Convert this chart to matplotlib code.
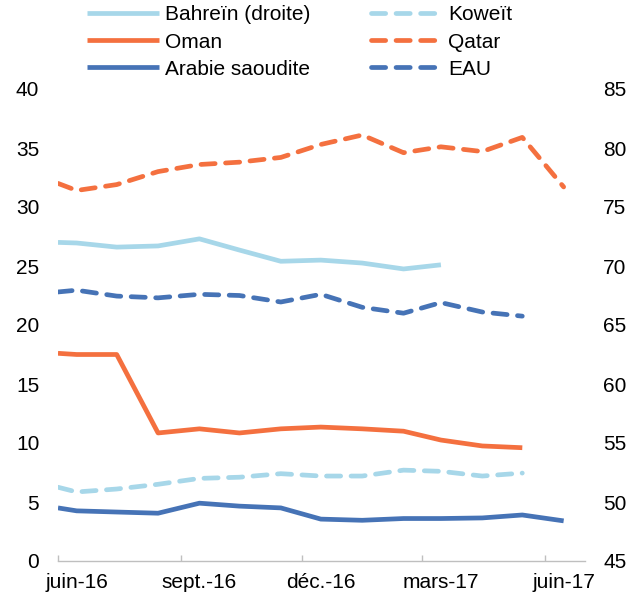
import numpy as np
import pandas as pd
import matplotlib
matplotlib.use("Agg")
import matplotlib.pyplot as plt
import matplotlib.dates as mdates

plt.rcParams['font.family'] = ['Liberation Sans', 'DejaVu Sans']

# dates of the points (first point sits on the left edge of the axis)
dates = pd.to_datetime(["2016-06-01", "2016-06-15", "2016-07-15", "2016-08-15", "2016-09-15",
                        "2016-10-15", "2016-11-15", "2016-12-15", "2017-01-15", "2017-02-15",
                        "2017-03-15", "2017-04-15", "2017-05-15", "2017-06-15"])

bahrein = [72.0, 71.95, 71.6, 71.7, 72.3, 71.35, 70.4, 70.5, 70.25, 69.75, 70.1]
oman = [17.6, 17.5, 17.5, 10.85, 11.2, 10.85, 11.2, 11.35, 11.2, 11.0, 10.25, 9.75, 9.6]
arabie = [4.5, 4.25, 4.15, 4.05, 4.9, 4.65, 4.5, 3.55, 3.45, 3.6, 3.6, 3.65, 3.9, 3.4]
koweit = [6.25, 5.85, 6.1, 6.5, 7.0, 7.1, 7.4, 7.2, 7.2, 7.7, 7.6, 7.2, 7.45]
qatar = [32.0, 31.4, 31.9, 33.0, 33.6, 33.8, 34.2, 35.3, 36.1, 34.6, 35.1, 34.7, 35.9, 31.7]
eau = [22.8, 22.95, 22.45, 22.3, 22.6, 22.5, 21.95, 22.6, 21.5, 21.0, 21.9, 21.1, 20.75]

tick_dates = ["2016-06-15", "2016-09-15", "2016-12-15", "2017-03-15", "2017-06-15"]
tick_labels = ["juin-16", "sept.-16", "déc.-16", "mars-17", "juin-17"]

light_blue = "#A7D7E9"
orange = "#F4703F"
dark_blue = "#4673B6"

lw = 3.4
dash = (0, (3.0, 2.2))
fs = 15

fig = plt.figure(figsize=(6.39, 6.0), dpi=100)
ax = fig.add_axes([58/639, 1 - 561/600, (585 - 58)/639, (561 - 89)/600])
ax2 = ax.twinx()

h_bah, = ax2.plot(dates[:len(bahrein)], bahrein, color=light_blue, lw=lw, solid_capstyle='butt', label="Bahreïn (droite)")
h_om, = ax.plot(dates[:len(oman)], oman, color=orange, lw=lw, solid_capstyle='butt', label="Oman")
h_ar, = ax.plot(dates[:len(arabie)], arabie, color=dark_blue, lw=lw, solid_capstyle='butt', label="Arabie saoudite")
h_kw, = ax.plot(dates[:len(koweit)], koweit, color=light_blue, lw=lw, ls=dash, dash_capstyle='round', label="Koweït")
h_qa, = ax.plot(dates[:len(qatar)], qatar, color=orange, lw=lw, ls=dash, dash_capstyle='round', label="Qatar")
h_eau, = ax.plot(dates[:len(eau)], eau, color=dark_blue, lw=lw, ls=dash, dash_capstyle='round', label="EAU")

ax.set_xlim(pd.Timestamp("2016-06-01"), pd.Timestamp("2017-07-01"))
ax.set_ylim(0, 40)
ax.set_yticks(np.arange(0, 41, 5))
ax2.set_ylim(45, 85)
ax2.set_yticks(np.arange(45, 86, 5))

# month-start ticks, labels centred mid-month
ax.xaxis.set_major_locator(mdates.MonthLocator(bymonth=[3, 6, 9, 12], bymonthday=1))
ax.xaxis.set_major_formatter(plt.NullFormatter())
ax.set_xticks(pd.to_datetime(tick_dates), minor=True)
ax.set_xticklabels(tick_labels, minor=True)
ax.tick_params(axis='x', which='major', direction='in', length=4, width=1, color="#BFBFBF")
ax.tick_params(axis='x', which='minor', length=0, pad=9, labelsize=fs)
ax.tick_params(axis='y', length=0, pad=13.5, labelsize=fs)
ax2.tick_params(axis='y', length=0, pad=13, labelsize=fs)

for a in (ax, ax2):
    for s in ("top", "left", "right", "bottom"):
        a.spines[s].set_visible(False)
ax.spines["bottom"].set_visible(True)
ax.spines["bottom"].set_color("#BFBFBF")
ax.spines["bottom"].set_linewidth(1)

handles = [h_bah, h_om, h_ar, h_kw, h_qa, h_eau]
fig.legend(handles, [h.get_label() for h in handles], ncol=2, frameon=False,
           loc="upper left", bbox_to_anchor=(87/639, 0.991), borderpad=0, borderaxespad=0,
           handlelength=3.45, handletextpad=0.28, columnspacing=2.9, labelspacing=0.39, fontsize=fs)

fig.savefig("out.png", dpi=100)
